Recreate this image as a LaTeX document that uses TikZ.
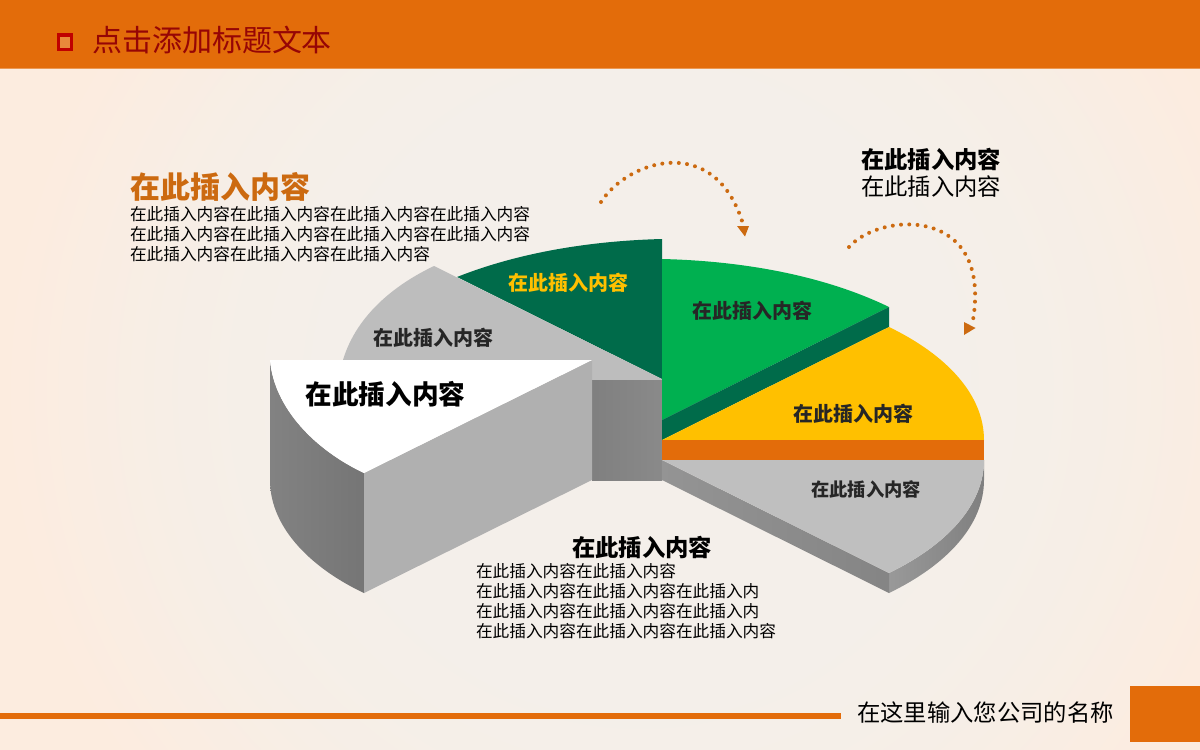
\documentclass[tikz,border=0pt]{standalone}
\usepackage{fontspec}
\setmainfont{Noto Sans CJK SC}
\usetikzlibrary{arrows.meta}
\definecolor{orangeM}{HTML}{E36C0A}
\definecolor{orangeD}{HTML}{CC6A10}
\definecolor{greenM}{HTML}{00B050}
\definecolor{greenD}{HTML}{006B4A}
\definecolor{yellowM}{HTML}{FFC000}
\definecolor{grayA}{HTML}{BDBDBD}
\definecolor{grayB}{HTML}{B0B0B0}
\definecolor{titleRed}{HTML}{960505}
\definecolor{bulletRed}{HTML}{C00000}
\definecolor{bgEdge}{HTML}{FDEBDD}
\pgfdeclareradialshading{bgshade}{\pgfpointorigin}{
 rgb(0bp)=(0.957,0.937,0.918);
 rgb(10bp)=(0.957,0.937,0.918);
 rgb(15bp)=(0.965,0.935,0.905);
 rgb(21bp)=(0.990,0.925,0.875);
 rgb(50bp)=(0.990,0.925,0.875)}
\tikzset{
 txt/.style={inner sep=0pt,outer sep=0pt,text=#1},
 txt/.default=black,
 dotline/.style={draw=orangeD,line width=3pt,line cap=round,dash pattern=on 0pt off 6.2pt},
 head/.style={fill=orangeD},
}
\newcommand{\fs}[1]{\fontsize{#1}{#1}\selectfont}
\begin{document}
\begin{tikzpicture}[x=0.75pt,y=-0.75pt]
\useasboundingbox (0,0) rectangle (1200,750);
% background
\fill[bgEdge] (0,0) rectangle (1200,750);
\begin{scope}
\clip (0,0) rectangle (1200,750);
\shade[shading=bgshade] (640,390) circle [radius=760];
\end{scope}
% header
\fill[orangeM] (0,0) rectangle (1200,68);
\fill[orangeM!70!white] (0,68) rectangle (1200,69);
\draw[bulletRed,line width=2.4pt,fill=orangeM!80!white] (58.1,35) rectangle (71.4,49.3);
\node[txt=titleRed,anchor=west] (title) at (92,40) {\fs{22.5}点击添加标题文本};
% footer
\fill[orangeM] (0,713) rectangle (841,719);
\fill[orangeM] (1130,686) rectangle (1200,742);
\node[txt=black,anchor=west] (company) at (857,713) {\fs{17.5}在这里输入您公司的名称};
% dark green wedge
\fill[greenD] (662,239) .. controls (585,241) and (515,254) .. (457,277) -- (662,379) -- cycle;
% back gray wedge
\fill[grayA] (434,266) .. controls (388,288) and (355,320) .. (343,360) -- (592,360) -- (592,381) -- (662,381) -- (662,379) -- cycle;
% dark inner face
\shade[left color=black!50,right color=black!46] (592,380) rectangle (662,480);
% front piece
\shade[left color=black!49,right color=black!54] (270,360) .. controls (274,408) and (315,450) .. (364,473) -- (364,593) .. controls (315,570) and (270,530) .. (270,480) -- cycle;
\fill[grayB] (364,473) -- (592,360) -- (592,480) -- (364,593) -- cycle;
\fill[white] (270,360) -- (592,360) -- (364,473) .. controls (315,450) and (274,408) .. (270,360) -- cycle;
% right: green
\fill[greenM] (662,259) .. controls (745,261) and (825,276) .. (889,307) -- (662,420) -- cycle;
\fill[greenD] (889,307) -- (889,327) -- (662,440) -- (662,420) -- cycle;
% yellow
\fill[yellowM] (662,440) -- (889,327) .. controls (947,355) and (984,395) .. (984,440) -- cycle;
% orange
\fill[orangeM] (662,440) rectangle (984,460);
% gray lower
\shade[left color=black!40,right color=black!50] (889,573) .. controls (947,545) and (984,505) .. (984,460) -- (984,480) .. controls (984,525) and (947,565) .. (889,593) -- cycle;
\shade[left color=black!42,right color=black!48] (662,460) -- (889,573) -- (889,593) -- (662,480) -- cycle;
\fill[black!25] (662,460) -- (984,460) .. controls (984,505) and (947,545) .. (889,573) -- cycle;
% curved dotted arrows
\coordinate (a1s) at (601,202);
\coordinate (a1e) at (743,224);
\coordinate (a2s) at (849,247);
\coordinate (a2e) at (973,320);
\draw[dotline] (a1s) .. controls (628,160) and (715,132) .. (a1e);
\draw[dotline] (a2s) .. controls (880,212) and (992,205) .. (a2e);
\fill[head] (737,226) -- (749,226) -- (745,236.5) -- cycle;
\fill[head] (964,322) -- (975.5,328) -- (964,335) -- cycle;
% labels
\node[txt=yellowM] (l1) at (568,283) {\fs{15}\bfseries 在此插入内容};
\node[txt=black!85] (l2) at (433,338) {\fs{15}\bfseries 在此插入内容};
\node[txt=black] (l3) at (385.5,394) {\fs{20}\bfseries 在此插入内容};
\node[txt=black!85] (l4) at (752,311) {\fs{15}\bfseries 在此插入内容};
\node[txt=black!85] (l5) at (853,414) {\fs{15}\bfseries 在此插入内容};
\node[txt=black!85] (l6) at (866,489) {\fs{13.7}\bfseries 在此插入内容};
% text blocks
\node[txt=orangeD,anchor=west] (h1) at (130,187) {\fs{22.5}\bfseries 在此插入内容};
\node[txt=black,anchor=west,align=left,font={\fontsize{12.5}{15}\selectfont}] (b1) at (130,234) {在此插入内容在此插入内容在此插入内容在此插入内容\\在此插入内容在此插入内容在此插入内容在此插入内容\\在此插入内容在此插入内容在此插入内容};
\node[txt=black,anchor=west] (h2) at (861,159) {\fs{17.5}\bfseries 在此插入内容};
\node[txt=black,anchor=west] (h3) at (861,187) {\fs{17.5}在此插入内容};
\node[txt=black,anchor=west] (h4) at (572,547) {\fs{17.5}\bfseries 在此插入内容};
\node[txt=black,anchor=west,align=left,font={\fontsize{12.5}{15}\selectfont}] (b2) at (476,601) {在此插入内容在此插入内容\\在此插入内容在此插入内容在此插入内\\在此插入内容在此插入内容在此插入内\\在此插入内容在此插入内容在此插入内容};
\end{tikzpicture}
\end{document}
